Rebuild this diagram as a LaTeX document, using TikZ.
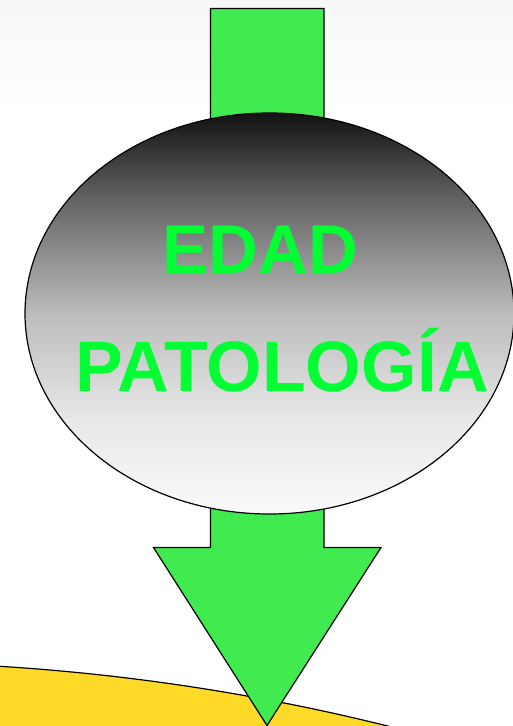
\documentclass[tikz,border=0pt]{standalone}
\usepackage{fontspec}
\newfontfamily\arialfont{Liberation Sans}
\definecolor{arrowgreen}{RGB}{65,235,79}
\definecolor{textgreen}{RGB}{0,255,51}
\definecolor{sunyellow}{RGB}{255,217,40}
\definecolor{gA}{gray}{0.98}
\definecolor{gB}{gray}{0.91}
\definecolor{gC}{gray}{0.74}
\definecolor{gD}{gray}{0.39}
\definecolor{gE}{gray}{0.07}
\pgfdeclareverticalshading{ellgrad}{100bp}{color(0bp)=(gA); color(25bp)=(gA); color(36.7bp)=(gB); color(49.9bp)=(gC); color(64.2bp)=(gD); color(75bp)=(gE); color(100bp)=(gE)}
\tikzset{
  outline/.style={draw=black, line width=1.2pt, line join=miter},
  bigtext/.style={text=textgreen, font=\arialfont\bfseries\fontsize{69}{80}\selectfont, anchor=base, inner sep=0pt}
}
\begin{document}
\begin{tikzpicture}[x=1pt,y=-1pt]
\useasboundingbox (0,0) rectangle (513,726);
% background with faint top gradient
\fill[white] (0,0) rectangle (513,726);
\shade[top color=black!3, bottom color=white] (0,0) rectangle (513,110);
% yellow disc at bottom
\begin{scope}
  \clip (0,0) rectangle (513,726);
  \filldraw[fill=sunyellow, outline] (-138,2835) circle[radius=2173];
\end{scope}
% green arrow
\filldraw[fill=arrowgreen, outline]
  (210.5,8.5) -- (324,8.5) -- (324,547.5) -- (381,547.5) -- (267,725.5)
  -- (153.5,547.5) -- (210.5,547.5) -- cycle;
% ellipse with vertical gradient
\path[shading=ellgrad, draw=black, line width=1.2pt]
  (269.5,313.5) ellipse[x radius=244.5, y radius=200.5];
% texts
\node[bigtext] (edad) at (260.5,273) {EDAD};
\node[bigtext, font=\arialfont\bfseries\fontsize{71.5}{80}\selectfont] (patologia) at (282,391) {PATOLOGÍA};
\end{tikzpicture}
\end{document}
